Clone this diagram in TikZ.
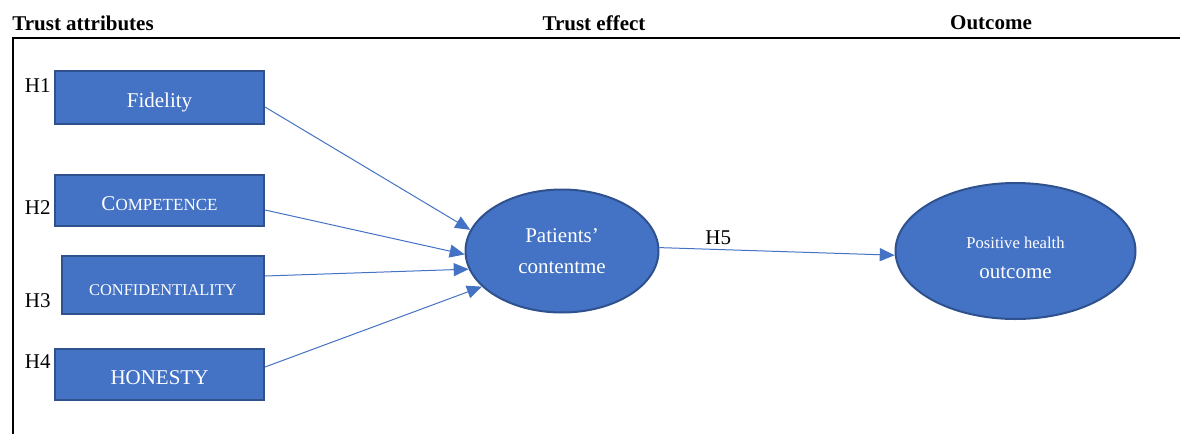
\documentclass[tikz,border=0pt]{standalone}
\usepackage{fontspec}
\setmainfont{Liberation Serif}
\usepackage{xcolor}
\usetikzlibrary{shapes.geometric, arrows.meta, positioning}

\definecolor{boxblue}{HTML}{4472C4}
\definecolor{edgeblue}{HTML}{2F528F}

\begin{document}
\begin{tikzpicture}[x=0.5pt, y=-0.5pt,
    every node/.style={font=\fontsize{10.5}{12.6}\selectfont},
    attr/.style={draw=edgeblue, line width=1pt, fill=boxblue, text=white, rectangle, minimum width=104.5pt, minimum height=25.5pt, text height=10pt, text depth=0pt, inner sep=0pt},
    effect/.style={draw=edgeblue, line width=1pt, fill=boxblue, text=white, ellipse, inner sep=0pt, align=center},
    hyp/.style={inner sep=0pt},
    head/.style={inner sep=0pt, font=\fontsize{10.5}{12.6}\selectfont\bfseries},
    link/.style={boxblue, line width=0.5pt, -{Triangle[length=7.5pt, width=6.5pt]}}]
    \useasboundingbox (0,0) rectangle (1180,434);

    \node[head, anchor=west] (attrhead) at (12,23) {Trust attributes};
    \node[head] (effhead) at (594,23) {Trust effect};
    \node[head] (outhead) at (991,23) {Outcome};
    \draw[line width=1.3pt] (1180,38) -- (12.8,38) -- (12.8,434);

    \node[attr, minimum height=26.5pt] (fid) at (159.5,97.5) {Fidelity};
    \node[attr, below=24.5pt of fid] (comp) {C{\fontsize{8.5}{10}\selectfont OMPETENCE}};
    \node[attr, minimum width=101pt, minimum height=29pt, below left=14pt and 0pt of comp.south east] (conf) {{\fontsize{8.2}{10}\selectfont CONFIDENTIALITY}};
    \node[attr, below left=16.5pt and 0pt of conf.south east] (hon) {HONESTY};

    \node[hyp, left=1.5pt of fid.north west, yshift=-8pt] (h1) {H1};
    \node[hyp, left=1.5pt of comp.west, yshift=-3.75pt] (h2) {H2};
    \node[hyp, left=5pt of conf.west, yshift=-8pt] (h3) {H3};
    \node[hyp, left=1.5pt of hon.west, yshift=6.25pt] (h4) {H4};

    \node[effect, minimum width=96.5pt, minimum height=61.5pt, font=\fontsize{10.5}{15.5}\selectfont] (pc) at (562,251) {Patients’\\contentme};
    \node[effect, minimum width=120pt, minimum height=68pt, font=\fontsize{10.5}{15}\selectfont, right=117.5pt of pc] (out) {\rule{0pt}{12.7pt}{\fontsize{8.3}{10}\selectfont Positive health}\\outcome};

    \draw[link] ([yshift=-4.75pt]fid.east) -- (pc.167);
    \draw[link] ([yshift=-4.75pt]comp.east) -- (pc.182);
    \draw[link] ([yshift=4.5pt]conf.east) -- (pc.191);
    \draw[link] ([yshift=3.75pt]hon.east) -- (pc.204);
    \draw[link] (pc.2) -- node[above=0pt, pos=0.25, inner sep=2pt, text=black] (h5) {H5} (out.182);
\end{tikzpicture}
\end{document}
